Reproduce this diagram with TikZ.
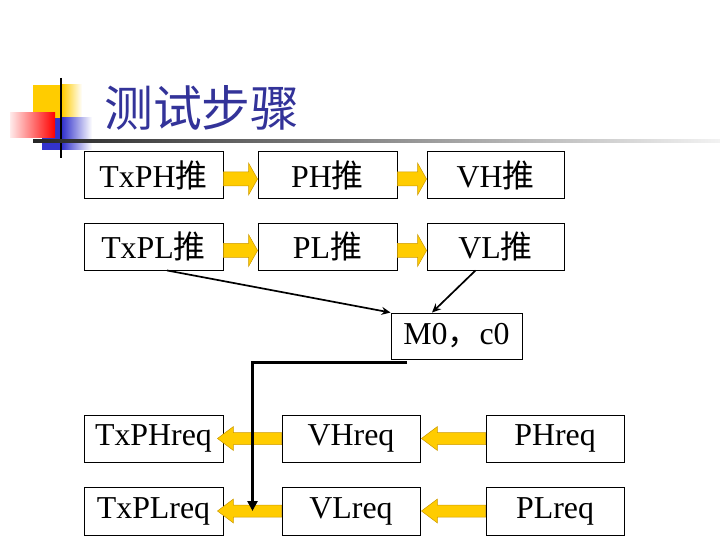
\documentclass[tikz,border=0pt]{standalone}
\usepackage{fontspec}
\setmainfont{Liberation Serif}
\newfontfamily\cjk{Noto Sans CJK SC}
\usetikzlibrary{calc,arrows.meta}

\definecolor{titleblue}{RGB}{51,51,153}
\definecolor{pushyellow}{RGB}{255,204,0}
\definecolor{pushedge}{RGB}{204,153,0}
\definecolor{decoblue}{RGB}{51,51,204}

\begin{document}
\begin{tikzpicture}[x=1bp, y=-1bp,
  stepbox/.style={draw=black, line width=0.9bp, inner sep=0pt, minimum width=139bp, minimum height=47bp, font=\fontsize{32}{36}\selectfont},
  push/.style={fill=pushyellow, draw=pushedge, line width=0.5bp}]

\useasboundingbox (0,0) rectangle (720,540);

% draw title decoration
\fill[pushyellow] (33,85) rectangle (62,118);
\shade[left color=pushyellow, right color=white] (62,85) rectangle (82,118);
\fill[decoblue] (42,118) rectangle (62,150);
\shade[left color=decoblue, right color=white] (62,118) rectangle (92,150);
\shade[left color=red!8, right color=red] (10,113) rectangle (55,138);
\draw[line width=2.5bp] (61,78) -- (61,158);
\shade[left color=black!85, right color=black!5] (33,139.5) rectangle (720,142.5);

% draw title
\node[anchor=west, inner sep=0pt, text=titleblue, font=\cjk\fontsize{49}{56}\selectfont] (title) at (104,108) {测试步骤};

% draw push steps
\node[stepbox] (TxPH) at (153.5,175) {TxPH{\cjk 推}};
\node[stepbox] (PH) at (327.5,175) {PH{\cjk 推}};
\node[stepbox, minimum width=137bp] (VH) at (495.5,175) {VH{\cjk 推}};
\node[stepbox] (TxPL) at (153.5,246.5) {TxPL{\cjk 推}};
\node[stepbox] (PL) at (327.5,246.5) {PL{\cjk 推}};
\node[stepbox, minimum width=137bp] (VL) at (495.5,246.5) {VL{\cjk 推}};

% draw middle step
\node[stepbox, minimum width=131bp, minimum height=46bp] (M0) at (456.5,336) {M0{\cjk ，}c0};

% draw request steps
\node[stepbox] (TxPHreq) at (153.5,438.5) {TxPHreq};
\node[stepbox, minimum width=138bp] (VHreq) at (351,438.5) {VHreq};
\node[stepbox, minimum width=138bp] (PHreq) at (555,438.5) {PHreq};
\node[stepbox, minimum height=48bp] (TxPLreq) at (153.5,511) {TxPLreq};
\node[stepbox, minimum width=138bp, minimum height=48bp] (VLreq) at (351,511) {VLreq};
\node[stepbox, minimum width=138bp, minimum height=48bp] (PLreq) at (555,511) {PLreq};

% draw yellow arrows
\foreach \a/\b in {TxPH/PH, PH/VH, TxPL/PL, PL/VL}
  \filldraw[push] ($(\a.east)+(0,-3)$) -- ($(\b.west)+(-9,-3)$) -- ($(\b.west)+(-9,-12)$)
                  -- ($(\b.west)+(0,4)$) -- ($(\b.west)+(-9,20)$) -- ($(\b.west)+(-9,11)$)
                  -- ($(\a.east)+(0,11)$) -- cycle;
\foreach \a/\b/\t in {TxPHreq/VHreq/-6, VHreq/PHreq/1, TxPLreq/VLreq/-6, VLreq/PLreq/1}
  \filldraw[push] ($(\b.west)+(0,-6)$) -- ($(\a.east)+(\t+16,-6)$) -- ($(\a.east)+(\t+16,-12)$)
                  -- ($(\a.east)+(\t,0)$) -- ($(\a.east)+(\t+16,12)$) -- ($(\a.east)+(\t+16,6)$)
                  -- ($(\b.west)+(0,6)$) -- cycle;

% draw black connectors
\draw[line width=1.7bp, -{Stealth[length=9bp,width=8bp]}] ([xshift=13.5bp]TxPL.south) -- (M0.north west);
\draw[line width=1.7bp, -{Stealth[length=9bp,width=8bp]}] ([xshift=-20bp]VL.south) -- ([xshift=-24.5bp]M0.north);
\draw[line width=3bp, -{Triangle[length=10bp,width=10bp]}] ([xshift=-49.5bp,yshift=-3bp]M0.south)
     -| ($(TxPLreq.east)!.5!(VLreq.west)$);

\end{tikzpicture}
\end{document}
